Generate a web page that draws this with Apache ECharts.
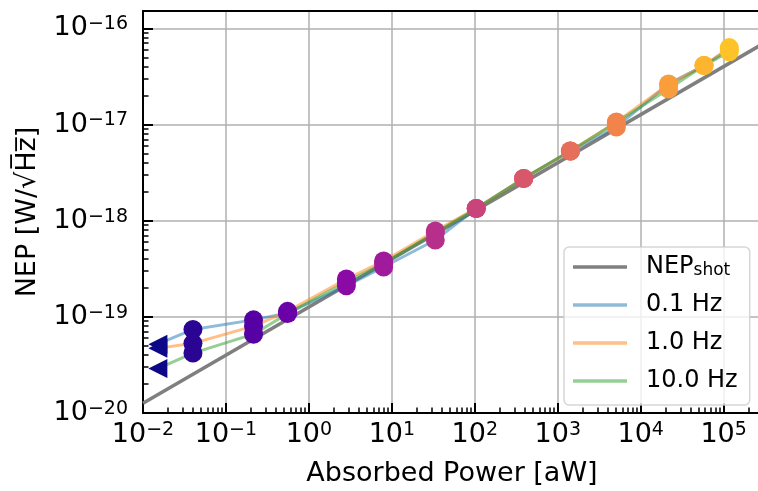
<!DOCTYPE html>
<html>
<head>
<meta charset="utf-8">
<script src="https://cdn.jsdelivr.net/npm/echarts@6/dist/echarts.min.js"></script>
<style>
html, body { margin: 0; padding: 0; background: #fff; }
#grafico { width: 758px; height: 491px; }
</style>
</head>
<body>
<div id="grafico"></div>
<script>
// Potência absorvida (aW) de cada ponto medido
const potencias = [0.040, 0.215, 0.553, 2.83, 7.96, 33.4, 104, 388, 1420, 5090, 21700, 58000, 117000];
// NEP medido em cada frequência (W/sqrt(Hz))
const nep01Hz = [7.4e-20, 9.3e-20, 1.10e-19, 2.10e-19, 3.3e-19, 6.3e-19, 1.34e-18, 2.75e-18, 5.3e-18, 9.4e-18, 2.64e-17, 4.1e-17, 6.1e-17];
const nep1Hz = [5.3e-20, 8.0e-20, 1.14e-19, 2.47e-19, 3.8e-19, 7.8e-19, 1.34e-18, 2.75e-18, 5.3e-18, 1.06e-17, 2.6e-17, 4.1e-17, 6.3e-17];
const nep10Hz = [4.2e-20, 6.6e-20, 1.08e-19, 2.3e-19, 3.6e-19, 7.5e-19, 1.34e-18, 2.75e-18, 5.3e-18, 1.05e-17, 2.34e-17, 4.1e-17, 5.7e-17];
// Ponto no escuro (triângulos à esquerda)
const potEscuro = 0.0151;
const nepEscuro = [5.2e-20, 4.7e-20, 2.9e-20];
// Reta do ruído de disparo (shot noise)
const shotX = [0.01, 2.8e5];
const shotY = [1.26e-20, 6.7e-17];
// Nomes da legenda
const nomes = ['NEP_shot', '0.1 Hz', '1.0 Hz', '10.0 Hz'];

// Cor de cada grupo de pontos (mapa plasma pela potência)
const coresPontos = ['#2a0593', '#5601a4', '#6a00a8', '#8b0aa5', '#a01a9c', '#b6308b', '#c9447a',
    '#d8576b', '#e76e5b', '#f2844b', '#fa9e3b', '#fdb42f', '#fdc328'];
const coresLinhas = ['#1f77b4', '#ff7f0e', '#2ca02c'];
const coresLegenda = ['#7f7f7f', '#8fbbd9', '#ffbf86', '#95cf95'];

// Limites dos eixos
const xMin = 0.01, xMax = 2.82e5;
const yMin = 1e-20, yMax = 1.514e-16;
const fonte = 'DejaVu Sans';

// Posições (em log10) dos ticks menores 2..9 de cada década
function ticksMenores(ini, fim, limite) {
    const v = [];
    for (let d = ini; d <= fim; d++) {
        for (let k = 2; k <= 9; k++) {
            const t = d + Math.log10(k);
            if (t <= limite) v.push(t);
        }
    }
    return v;
}

// Rótulo 10^n com expoente sobrescrito
function rotuloExpoente(v) {
    const e = Math.log10(v);
    const r = Math.round(e);
    if (Math.abs(e - r) > 1e-6) return '';
    return '{b|10}{e|' + (r < 0 ? '\u2212' + (-r) : r) + '}';
}

const richRotulo = {
    b: { fontSize: 27, fontFamily: fonte, color: '#000' },
    e: { fontSize: 19, fontFamily: fonte, color: '#000', verticalAlign: 'top' }
};

const linhaEixo = { onZero: false, lineStyle: { color: '#000', width: 2 } };
const linhaGrade = { show: true, showMaxLine: false, lineStyle: { color: '#b0b0b0', width: 1.5 } };

const series = [];

// Reta do NEP de shot noise
series.push({
    type: 'line', name: nomes[0], color: '#7f7f7f', showSymbol: false, silent: true, z: 1,
    lineStyle: { color: '#7f7f7f', width: 3.5 },
    data: shotX.map((x, i) => [x, shotY[i]])
});

// Linhas de cada frequência (começam no ponto no escuro)
[nep01Hz, nep1Hz, nep10Hz].forEach((nep, s) => {
    series.push({
        type: 'line', name: nomes[s + 1], color: coresLinhas[s], showSymbol: false, silent: true, z: 2,
        lineStyle: { color: coresLinhas[s], width: 3, opacity: 0.5 },
        data: [[potEscuro, nepEscuro[s]]].concat(potencias.map((p, i) => [p, nep[i]]))
    });
});

// Pontos coloridos pela potência
[nep01Hz, nep1Hz, nep10Hz].forEach((nep, s) => {
    series.push({
        type: 'scatter', name: 'pontos' + s, symbolSize: 19, silent: true, z: 3,
        data: potencias.map((p, i) => ({ value: [p, nep[i]], itemStyle: { color: coresPontos[i], opacity: 1 } }))
    });
});

// Triângulos do ponto no escuro
series.push({
    type: 'scatter', name: 'escuro', symbol: 'triangle', symbolRotate: 90, symbolSize: 19, silent: true, z: 3,
    itemStyle: { color: '#0d0887', opacity: 1 },
    data: nepEscuro.map(n => [potEscuro, n])
});

const chart = echarts.init(document.getElementById('grafico'));
chart.setOption({
    animation: false,
    backgroundColor: '#fff',
    grid: { left: 143, top: 11, width: 618, height: 402, containLabel: false, outerBoundsMode: 'none' },
    legend: {
        orient: 'vertical', left: 564, top: 247,
        itemWidth: 54, itemHeight: 3.5, itemGap: 14,
        padding: [8, 12, 12, 9],
        backgroundColor: 'rgba(255,255,255,0.8)',
        borderColor: 'rgba(204,204,204,0.8)', borderWidth: 1.5, borderRadius: 5,
        selectedMode: false,
        data: nomes.map((n, i) => ({ name: n, icon: 'rect', itemStyle: { color: coresLegenda[i], opacity: 1 } })),
        // todos os itens em rich text para terem a mesma altura
        formatter: n => n === 'NEP_shot' ? '{n|NEP}{s|shot}' : '{n|' + n + '}',
        textStyle: {
            fontSize: 24, fontFamily: fonte, color: '#000', padding: [0, 0, 0, 14],
            rich: {
                n: { fontSize: 24, fontFamily: fonte, color: '#000' },
                s: { fontSize: 17, fontFamily: fonte, color: '#000', verticalAlign: 'bottom' }
            }
        }
    },
    xAxis: [
        {
            type: 'log', min: xMin, max: xMax, position: 'bottom',
            name: 'Absorbed Power [aW]', nameLocation: 'middle', nameGap: 47,
            nameTextStyle: { fontSize: 27, fontFamily: fonte, color: '#000' },
            axisLine: linhaEixo,
            axisTick: { inside: true, length: 10, lineStyle: { color: '#000', width: 2 } },
            axisLabel: { formatter: rotuloExpoente, margin: 8, rich: richRotulo, showMinLabel: true, showMaxLabel: false },
            splitLine: linhaGrade
        },
        {
            // só para os ticks menores
            type: 'value', min: Math.log10(xMin), max: Math.log10(xMax), position: 'bottom',
            axisLine: { show: false, onZero: false },
            axisTick: { inside: true, length: 5.5, customValues: ticksMenores(-2, 5, Math.log10(xMax)), lineStyle: { color: '#000', width: 1.5 } },
            axisLabel: { show: false }, splitLine: { show: false }
        },
        {
            // borda de cima
            type: 'log', min: xMin, max: xMax, position: 'top',
            axisLine: linhaEixo, axisTick: { show: false }, axisLabel: { show: false }, splitLine: { show: false }
        }
    ],
    yAxis: [
        {
            type: 'log', min: yMin, max: yMax, position: 'left',
            name: 'NEP [W/\u221AH\u0305z\u0305]', nameLocation: 'middle', nameGap: 102,
            nameTextStyle: { fontSize: 27, fontFamily: fonte, color: '#000' },
            axisLine: linhaEixo,
            axisTick: { inside: true, length: 10, lineStyle: { color: '#000', width: 2 } },
            axisLabel: { formatter: rotuloExpoente, margin: 15, rich: richRotulo, showMinLabel: true, showMaxLabel: false },
            splitLine: linhaGrade
        },
        {
            type: 'value', min: Math.log10(yMin), max: Math.log10(yMax), position: 'left',
            axisLine: { show: false, onZero: false },
            axisTick: { inside: true, length: 5.5, customValues: ticksMenores(-20, -16, Math.log10(yMax)), lineStyle: { color: '#000', width: 1.5 } },
            axisLabel: { show: false }, splitLine: { show: false }
        }
    ],
    series
});
</script>
</body>
</html>
